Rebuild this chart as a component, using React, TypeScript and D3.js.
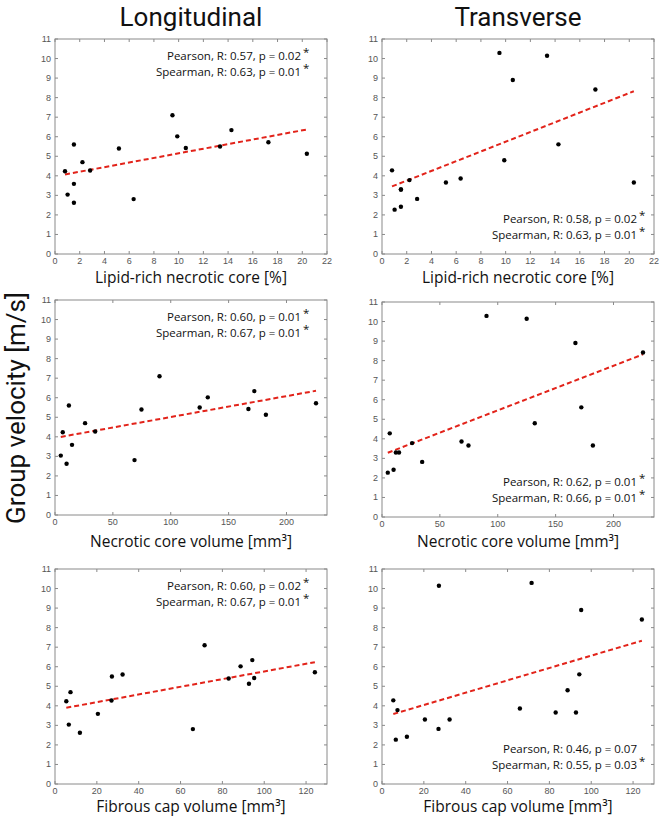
import React from 'react';
import * as d3 from 'd3';

// ---- data (one entry per plaque) ----
const lipidCore = [0.81, 1.02, 1.53, 1.53, 1.53, 2.22, 2.84, 5.17, 6.36, 9.5, 9.89, 10.58, 13.35, 14.27, 17.26, 20.37];
const necroticVolume = [6.7, 5.0, 12.0, 14.7, 10.0, 26.0, 34.7, 74.7, 68.7, 90.3, 132.0, 167.1, 125.0, 172.2, 225.5, 182.2];
const fibrousCapVolume = [5.4, 6.6, 32.3, 20.5, 11.9, 7.4, 27.0, 83.0, 65.9, 71.5, 88.7, 95.2, 27.2, 94.3, 124.2, 92.7];
const velocityLongitudinal = [4.23, 3.04, 5.6, 3.59, 2.62, 4.7, 4.27, 5.4, 2.81, 7.1, 6.02, 5.42, 5.5, 6.34, 5.72, 5.13];
const velocityTransverse = [4.28, 2.27, 3.3, 3.3, 2.42, 3.78, 2.82, 3.66, 3.86, 10.29, 4.8, 8.9, 10.14, 5.61, 8.42, 3.66];

const columnTitles = ['Longitudinal', 'Transverse'];
const rowLabels = ['Lipid-rich necrotic core [%]', 'Necrotic core volume [mm³]', 'Fibrous cap volume [mm³]'];
const xDomains = [[0, 22], [0, 235], [0, 130]];
const xTicksLipid = [0, 2, 4, 6, 8, 10, 12, 14, 16, 18, 20, 22];
const xTicksNecrotic = [0, 50, 100, 150, 200];
const xTicksFibrous = [0, 20, 40, 60, 80, 100, 120];
const yTicks = [0, 1, 2, 3, 4, 5, 6, 7, 8, 9, 10, 11];
const yLabel = 'Group velocity [m/s]';

const pearsonText = [
  ['Pearson, R: 0.57, p = 0.02', 'Pearson, R: 0.58, p = 0.02'],
  ['Pearson, R: 0.60, p = 0.01', 'Pearson, R: 0.62, p = 0.01'],
  ['Pearson, R: 0.60, p = 0.02', 'Pearson, R: 0.46, p = 0.07'],
];
const pearsonSig = [[true, true], [true, true], [true, false]];
const spearmanText = [
  ['Spearman, R: 0.63, p = 0.01', 'Spearman, R: 0.63, p = 0.01'],
  ['Spearman, R: 0.67, p = 0.01', 'Spearman, R: 0.66, p = 0.01'],
  ['Spearman, R: 0.67, p = 0.01', 'Spearman, R: 0.55, p = 0.03'],
];
const spearmanSig = [[true, true], [true, true], [true, true]];

const xSeries = [lipidCore, necroticVolume, fibrousCapVolume];
const xTickSets = [xTicksLipid, xTicksNecrotic, xTicksFibrous];
const ySeries = [velocityLongitudinal, velocityTransverse];

// ---- layout ----
const W = 659;
const H = 817;
const colX = [[55, 327], [382, 654]];
const rowY = [
  [[39, 254], [39, 254]],
  [[300, 515], [302, 517]],
  [[569, 784], [569, 784]],
];
const labelBaseline = [283, 547, 811.5];
const FONT = "'Open Sans', 'Noto Sans', sans-serif";
const BIGFONT = "Roboto, 'Open Sans', sans-serif";
const TICKFONT = "'Liberation Sans', Arial, sans-serif";

function fit(xs: number[], ys: number[]) {
  const mx = d3.mean(xs) as number;
  const my = d3.mean(ys) as number;
  let sxy = 0;
  let sxx = 0;
  xs.forEach((x, i) => {
    sxy += (x - mx) * (ys[i] - my);
    sxx += (x - mx) * (x - mx);
  });
  const slope = sxy / sxx;
  return { slope, intercept: my - slope * mx };
}

function Panel({ row, col }: { row: number; col: number }) {
  const [x0, x1] = colX[col];
  const [y0, y1] = rowY[row][col];
  const xs = xSeries[row];
  const ys = ySeries[col];
  const x = d3.scaleLinear().domain(xDomains[row]).range([x0, x1]);
  const y = d3.scaleLinear().domain([0, 11]).range([y1, y0]);
  const { slope, intercept } = fit(xs, ys);
  const [xmin, xmax] = d3.extent(xs) as [number, number];
  const line = d3.line<number>().x((d) => x(d)).y((d) => y(intercept + slope * d));
  const tl = 3;
  const textRight = col === 0 ? x1 - 26 : x1 - 17;
  const base1 = col === 0 ? y0 + 21 : y1 - 31;
  const base2 = col === 0 ? y0 + 37 : y1 - 15;
  const lines = [
    { t: pearsonText[row][col], s: pearsonSig[row][col], b: base1 },
    { t: spearmanText[row][col], s: spearmanSig[row][col], b: base2 },
  ];
  return (
    <g>
      <rect x={x0} y={y0} width={x1 - x0} height={y1 - y0} fill="#fff" stroke="#8a8a8a" strokeWidth={1} />
      {xTickSets[row].map((t) => (
        <g key={'x' + t}>
          <line x1={x(t)} x2={x(t)} y1={y1} y2={y1 - tl} stroke="#8a8a8a" />
          <line x1={x(t)} x2={x(t)} y1={y0} y2={y0 + tl} stroke="#8a8a8a" />
          <text x={x(t)} y={y1 + 10} textAnchor="middle" fontSize={9} fill="#555" fontFamily={TICKFONT}>
            {t}
          </text>
        </g>
      ))}
      {yTicks.map((t) => (
        <g key={'y' + t}>
          <line x1={x0} x2={x0 + tl} y1={y(t)} y2={y(t)} stroke="#8a8a8a" />
          <line x1={x1} x2={x1 - tl} y1={y(t)} y2={y(t)} stroke="#8a8a8a" />
          <text x={x0 - 4} y={y(t) + 3} textAnchor="end" fontSize={9} fill="#555" fontFamily={TICKFONT}>
            {t}
          </text>
        </g>
      ))}
      <path d={line([xmin, xmax]) || ''} fill="none" stroke="#e2231a" strokeWidth={2} strokeDasharray="5,3" />
      {xs.map((v, i) => (
        <circle key={i} cx={x(v)} cy={y(ys[i])} r={2.2} fill="#000" />
      ))}
      {lines.map((l, i) => (
        <g key={'a' + i}>
          <text x={textRight} y={l.b} textAnchor="end" fontSize={11.5} fill="#111" fontFamily={FONT}>
            {l.t}
          </text>
          {l.s && (
            <text x={textRight + 2} y={l.b - 4} textAnchor="start" fontSize={11.5} fill="#111" fontFamily={FONT}>
              *
            </text>
          )}
        </g>
      ))}
      <text x={(x0 + x1) / 2} y={labelBaseline[row]} textAnchor="middle" fontSize={15.5} fill="#111" fontFamily={FONT}>
        {rowLabels[row]}
      </text>
    </g>
  );
}

export default function App() {
  return (
    <svg width={W} height={H} style={{ position: 'absolute', left: 0, top: 0, background: '#fff' }}>
      <rect x={0} y={0} width={W} height={H} fill="#fff" />
      {columnTitles.map((t, c) => (
        <text key={t} x={(colX[c][0] + colX[c][1]) / 2} y={26} textAnchor="middle" fontSize={26} fill="#111" fontFamily={BIGFONT}>
          {t}
        </text>
      ))}
      <text transform={`translate(25,408) rotate(-90)`} textAnchor="middle" fontSize={26} fill="#111" fontFamily={BIGFONT}>
        {yLabel}
      </text>
      {[0, 1, 2].map((r) => [0, 1].map((c) => <Panel key={r + '-' + c} row={r} col={c} />))}
    </svg>
  );
}
